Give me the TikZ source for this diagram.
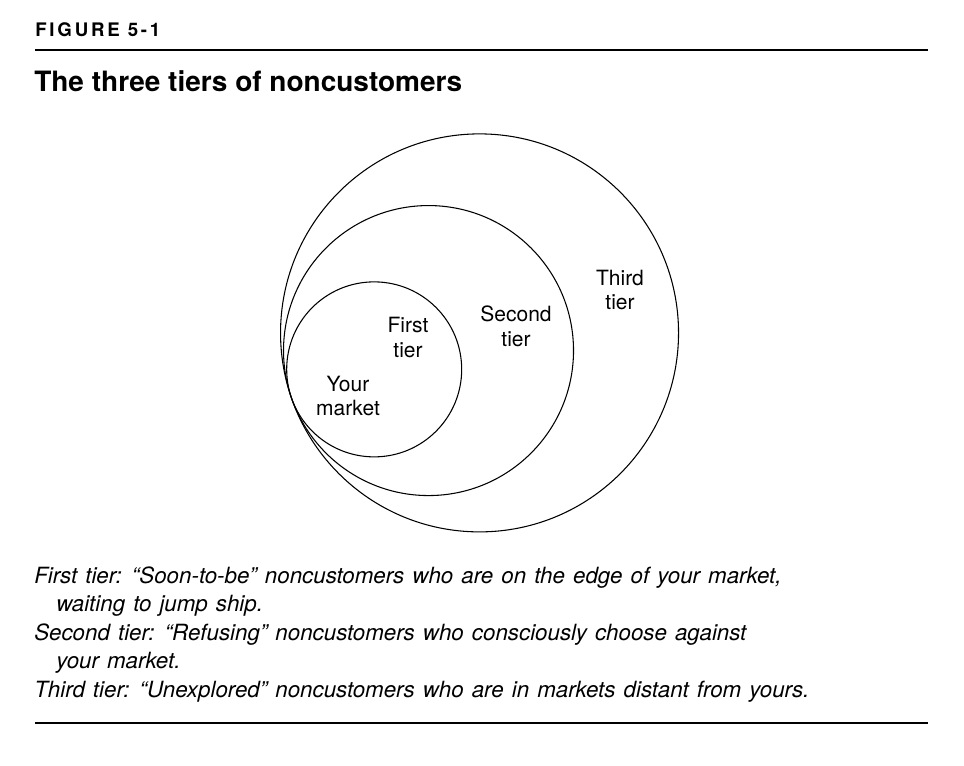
\documentclass[tikz,border=0pt]{standalone}
\usepackage{fontspec}
\setmainfont{TeX Gyre Heros}
\newfontfamily\captionfont[WordSpace=1.3]{TeX Gyre Heros}
\usetikzlibrary{calc}

\tikzset{
  tierlabel/.style={align=center,inner sep=0pt,font=\fontsize{15.75}{18.4}\selectfont},
  captionline/.style={anchor=base west,inner sep=0pt,font=\captionfont\fontsize{16.75}{18}\selectfont\itshape},
  headrule/.style={line width=1.1pt},
  ring/.style={line width=0.8pt}
}

\begin{document}
\begin{tikzpicture}[x=0.75pt,y=-0.75pt]
        \useasboundingbox (0,0) rectangle (964,765);

        % heading
        \node[anchor=base west,inner sep=0pt,font=\fontsize{14}{16}\selectfont\bfseries\addfontfeature{LetterSpace=15}] (figno) at (35,36.7) {FIGURE 5-1};
        \draw[headrule] (35,50) -- (928,50);
        \node[anchor=base west,inner sep=0pt,font=\fontsize{21}{25}\selectfont\bfseries] (title) at (34,91.7) {The three tiers of noncustomers};

        % circles, all touching at one point on the left
        \coordinate (touch) at (291.5,398);
        \draw[ring] ($(touch)+(-19.1:199)$) circle [radius=199];
        \draw[ring] ($(touch)+(-19.1:145)$) circle [radius=145];
        \draw[ring] ($(touch)+(-19.1:87.5)$) circle [radius=87.5];

        \node[tierlabel] (third) at (620,290) {Third\\tier};
        \node[tierlabel] (second) at (516,326.5) {Second\\tier};
        \node[tierlabel] (first) at (408,337.4) {First\\tier};
        \node[tierlabel] (yours) at (348,395.8) {Your\\market};

        % caption lines
        \node[captionline] (capA) at (34,583) {First tier: “Soon-to-be” noncustomers who are on the edge of your market,};
        \node[captionline] (capB) at (56,611.5) {waiting to jump ship.};
        \node[captionline] (capC) at (34,640) {Second tier: “Refusing” noncustomers who consciously choose against};
        \node[captionline] (capD) at (56,668.5) {your market.};
        \node[captionline] (capE) at (34,697) {Third tier: “Unexplored” noncustomers who are in markets distant from yours.};
        \draw[headrule] (35,723) -- (928,723);
    \end{tikzpicture}
\end{document}
